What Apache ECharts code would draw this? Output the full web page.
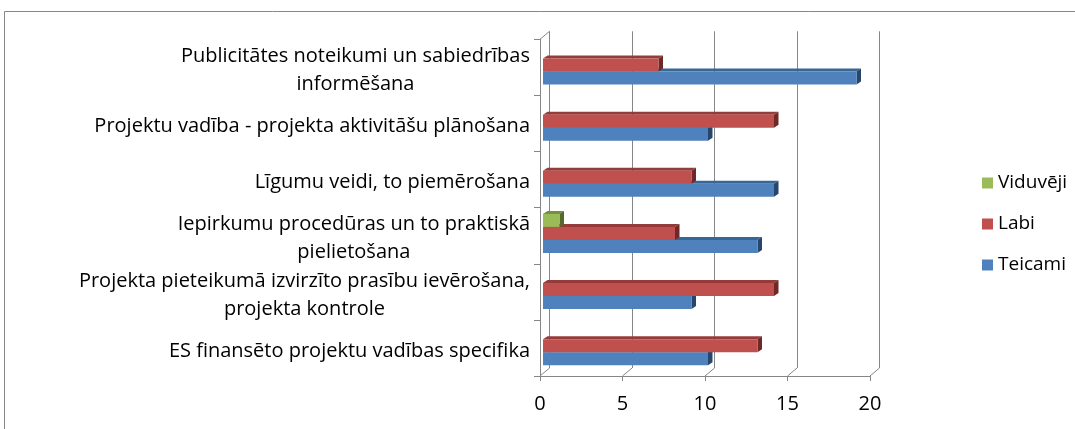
<!DOCTYPE html>
<html><head><meta charset="utf-8">
<script src="https://cdn.jsdelivr.net/npm/echarts@6/dist/echarts.min.js"></script>
<style>html,body{margin:0;padding:0;background:#fff}#c{width:1075px;height:429px}</style>
</head><body><div id="c"></div>
<script>
const categories = [
  'Publicitātes noteikumi un sabiedrības\ninformēšana',
  'Projektu vadība - projekta aktivitāšu plānošana',
  'Līgumu veidi, to piemērošana',
  'Iepirkumu procedūras un to praktiskā\npielietošana',
  'Projekta pieteikumā izvirzīto prasību ievērošana,\nprojekta kontrole',
  'ES finansēto projektu vadības specifika'
];
const viduveji = [0, 0, 0, 1, 0, 0];
const labi = [7, 14, 9, 8, 14, 13];
const teicami = [19, 10, 14, 13, 9, 10];
const xTicks = [0, 5, 10, 15, 20];
const legendOrder = ['Viduvēji', 'Labi', 'Teicami'];

const FONT = '"Open Sans", sans-serif';
const GRID = { left: 540, top: 39.3, width: 330, height: 336.7 };
const DEPTH = { dx: 9.5, dy: 8 };

const seriesDefs = [
  { name: 'Teicami', data: teicami, slot: 2, front: '#4F81BD', top: '#3A6696', side: '#27466D' },
  { name: 'Labi', data: labi, slot: 1, front: '#C0504D', top: '#953B39', side: '#6F2826' },
  { name: 'Viduvēji', data: viduveji, slot: 0, front: '#9BBB59', top: '#748F3E', side: '#56692D' }
];

function makeRender(def) {
  return function (params, api) {
    const val = api.value(0);
    if (!val) return null;
    const cat = api.value(1);
    const p0 = api.coord([0, cat]);
    const p1 = api.coord([val, cat]);
    const band = api.size([0, 1])[1];
    const h = band * 0.232;
    const y = p0[1] - 1.5 * h + def.slot * h - 2.3;
    const x0 = p0[0] + 3, x1 = p1[0] + 3;
    const dx = 4.5, dy = 3;
    return {
      type: 'group',
      children: [
        { type: 'polygon', shape: { points: [[x0, y], [x1, y], [x1 + dx, y - dy], [x0 + dx, y - dy]] }, style: { fill: def.top } },
        { type: 'polygon', shape: { points: [[x1, y], [x1 + dx, y - dy], [x1 + dx, y + h - dy], [x1, y + h]] }, style: { fill: def.side } },
        { type: 'rect', shape: { x: x0, y: y, width: x1 - x0, height: h }, style: { fill: def.front } }
      ]
    };
  };
}

const chart = echarts.init(document.getElementById('c'), null, { renderer: 'canvas' });
const option = {
  animation: false,
  backgroundColor: '#fff',
  grid: [
    { left: GRID.left, top: GRID.top, width: GRID.width, height: GRID.height },
    { left: GRID.left + DEPTH.dx, top: GRID.top - DEPTH.dy, width: GRID.width, height: GRID.height }
  ],
  xAxis: [
    {
      type: 'value', gridIndex: 0, min: 0, max: 20, interval: 5,
      axisLine: { show: true, lineStyle: { color: '#868686' } },
      axisTick: { show: true, length: 5, lineStyle: { color: '#868686' } },
      splitLine: { show: false },
      axisLabel: { fontFamily: FONT, fontSize: 20, color: '#000', margin: 18 }
    },
    {
      type: 'value', gridIndex: 1, min: 0, max: 20, interval: 5,
      axisLine: { show: false }, axisTick: { show: false }, axisLabel: { show: false },
      splitLine: { show: true, lineStyle: { color: '#868686', width: 1 } }
    }
  ],
  yAxis: [
    {
      type: 'category', gridIndex: 0, data: categories, inverse: true,
      axisLine: { show: true, lineStyle: { color: '#868686' } },
      axisTick: { show: true, length: 6, lineStyle: { color: '#868686' } },
      axisLabel: {
        margin: 10,
        padding: [6, 0, 0, 0],
        formatter: v => v.split('\n').map(l => '{c|' + l + '}').join('\n'),
        rich: { c: { align: 'center', fontFamily: FONT, fontSize: 20, lineHeight: 28, color: '#000' } }
      }
    },
    { type: 'category', gridIndex: 1, data: categories, inverse: true, show: false }
  ],
  legend: {
    orient: 'vertical', left: 977, top: 168, itemWidth: 11, itemHeight: 11, itemGap: 21,
    icon: 'rect', data: legendOrder,
    textStyle: { fontFamily: FONT, fontSize: 19, color: '#000', lineHeight: 20 }
  },
  series: seriesDefs.map(def => ({
    name: def.name,
    type: 'custom',
    xAxisIndex: 0, yAxisIndex: 0,
    itemStyle: { color: def.front },
    encode: { x: 0, y: 1 },
    data: def.data.map((v, i) => [v, i]),
    renderItem: makeRender(def)
  }))
};
chart.setOption(option);

// 3D floor / wall edges derived from the axis scale
const bottom = GRID.top + GRID.height;
const lines = xTicks.map(t => {
  const x = chart.convertToPixel({ xAxisIndex: 0 }, t);
  return { type: 'line', shape: { x1: x, y1: bottom, x2: x + DEPTH.dx, y2: bottom - DEPTH.dy }, style: { stroke: '#868686', lineWidth: 1 }, silent: true };
});
const x0 = chart.convertToPixel({ xAxisIndex: 0 }, 0);
lines.push({ type: 'line', shape: { x1: x0, y1: GRID.top, x2: x0 + DEPTH.dx, y2: GRID.top - DEPTH.dy }, style: { stroke: '#868686', lineWidth: 1 }, silent: true });
lines.push({ type: 'rect', shape: { x: 4.5, y: 11.5, width: 1100, height: 500 }, style: { fill: 'none', stroke: '#878787', lineWidth: 1 }, silent: true, z: -1 });
chart.setOption({ graphic: { elements: lines } });
</script>
</body></html>
